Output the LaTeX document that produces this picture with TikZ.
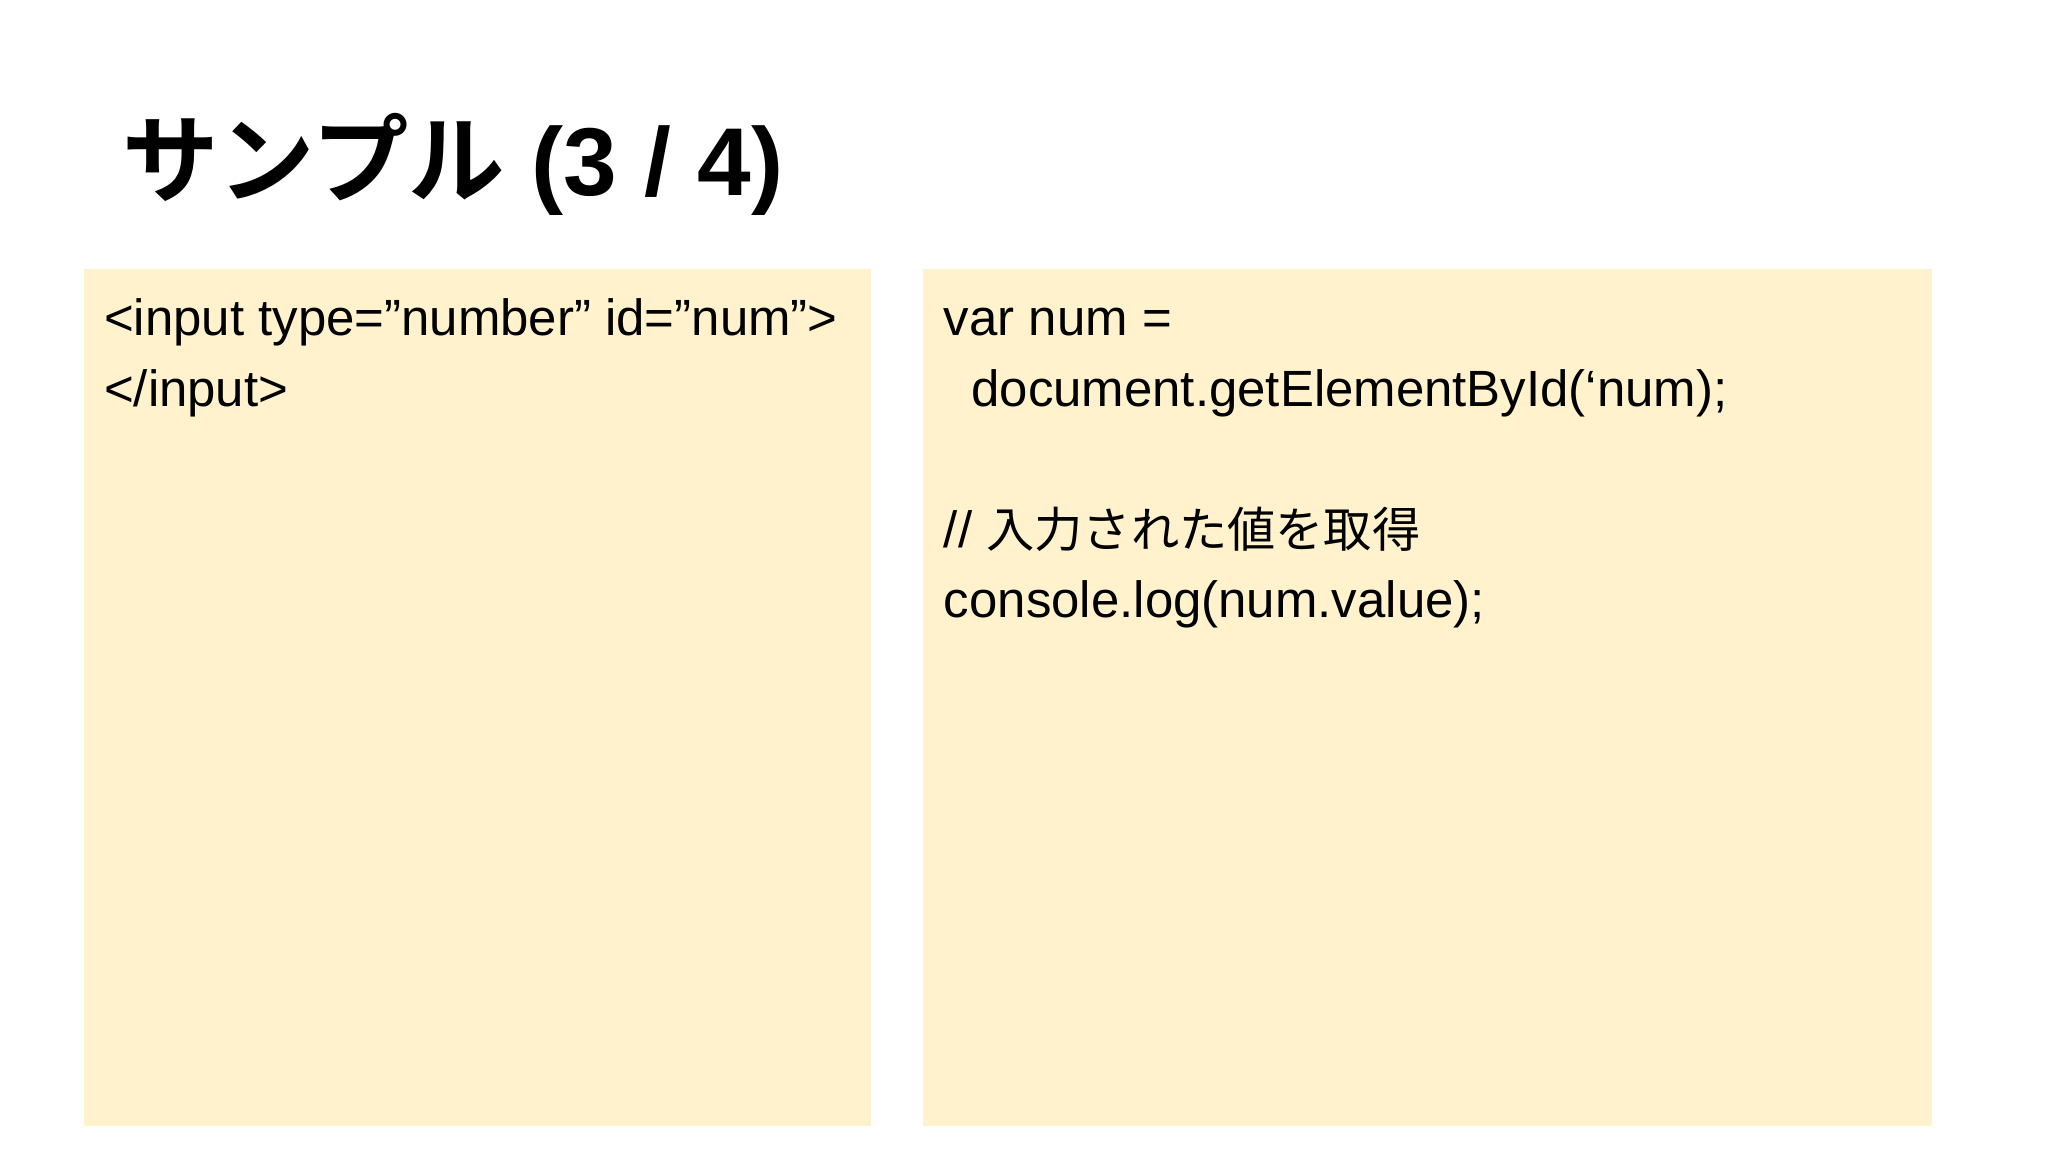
\documentclass[tikz,border=0pt]{standalone}
\usepackage{fontspec}
\setmainfont{Liberation Sans}
\newfontfamily\cjk{Noto Sans CJK JP}
\newfontfamily\cjkb{Noto Sans CJK JP Bold}
\definecolor{boxc}{HTML}{FFF2CC}
\begin{document}
\begin{tikzpicture}[x=0.1mm,y=-0.1mm,
  codebox/.style={fill=boxc,draw=none},
  codetxt/.style={anchor=base west,inner sep=0pt,font=\fontsize{11.1pt}{15.4pt}\selectfont}]
\useasboundingbox[fill=white] (0,0) rectangle (1568,882);
\node[anchor=base west,inner sep=0pt,font=\fontsize{21pt}{26pt}\selectfont] (title) at (93,150) {{\cjkb サンプル} \textbf{(3 / 4)}};
\fill[codebox] (64,206) rectangle (667,862);
\fill[codebox] (707,206) rectangle (1479,862);
\node[codetxt] (l1) at (79,257) {<input type=”number” id=”num”>};
\node[codetxt] (l2) at (79,311) {</input>};
\node[codetxt] (r1) at (722,257) {var num =};
\node[codetxt] (r2) at (743,311) {document.getElementById(‘num);};
\node[codetxt] (r3) at (722,419) {// {\cjk\fontsize{10.5pt}{15.4pt}\selectfont 入力された値を取得}};
\node[codetxt] (r4) at (722,473) {console.log(num.value);};
\end{tikzpicture}
\end{document}
